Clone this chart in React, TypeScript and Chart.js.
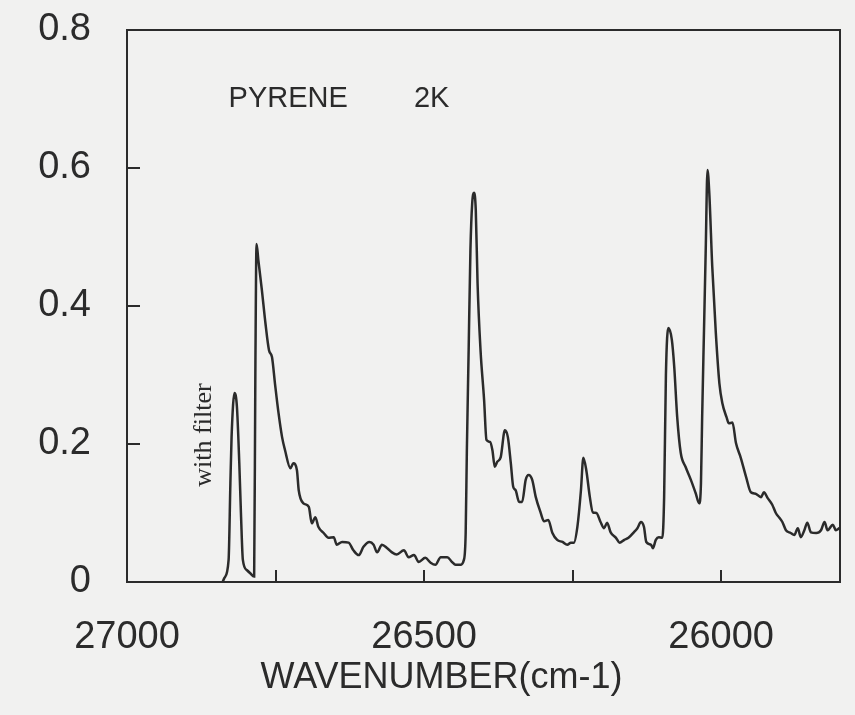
import { useEffect, useRef } from "react";
import { Chart, registerables } from "chart.js";

Chart.register(...registerables);

// Spectrum: wavenumber (cm-1) and intensity
const wavenumbers = [
  26839, 26836, 26829, 26826, 26824, 26819, 26815, 26811, 26808, 26805, 26798, 26793, 26786, 26784,
  26782, 26779, 26773, 26767, 26761, 26756, 26751, 26745, 26739, 26734, 26725, 26720, 26714, 26711,
  26703, 26694, 26689, 26683, 26678, 26669, 26661, 26652, 26647, 26638, 26627, 26619, 26610, 26602,
  26592, 26585, 26579, 26571, 26562, 26554, 26546, 26534, 26526, 26517, 26509, 26498, 26489, 26481,
  26472, 26461, 26453, 26447, 26439, 26433, 26430, 26428, 26425, 26422, 26419, 26416, 26413, 26410,
  26405, 26399, 26395, 26389, 26385, 26381, 26377, 26371, 26364, 26359, 26354, 26350, 26346, 26340,
  26335, 26329, 26324, 26318, 26312, 26304, 26298, 26291, 26284, 26276, 26267, 26259, 26253, 26248,
  26242, 26236, 26232, 26227, 26221, 26216, 26210, 26203, 26197, 26192, 26186, 26177, 26171, 26163,
  26156, 26147, 26141, 26135, 26130, 26126, 26118, 26115, 26110, 26105, 26099, 26096, 26093, 26089,
  26083, 26079, 26074, 26068, 26060, 26051, 26043, 26037, 26034, 26032, 26029, 26026, 26023, 26020,
  26015, 26009, 26003, 25998, 25991, 25987, 25981, 25975, 25967, 25958, 25950, 25942, 25933, 25928,
  25922, 25914, 25908, 25902, 25897, 25891, 25883, 25877, 25871, 25866, 25860, 25855, 25849, 25840,
  25832, 25826, 25821, 25812, 25807, 25801,
];
const intensities = [
  0.0, 0.006, 0.032, 0.143, 0.21, 0.274, 0.254, 0.172, 0.094, 0.032, 0.017, 0.013, 0.008, 0.3,
  0.49, 0.467, 0.423, 0.375, 0.336, 0.326, 0.288, 0.245, 0.21, 0.191, 0.165, 0.172, 0.162, 0.133,
  0.114, 0.109, 0.085, 0.094, 0.08, 0.071, 0.064, 0.065, 0.054, 0.058, 0.057, 0.046, 0.039, 0.051,
  0.058, 0.054, 0.043, 0.054, 0.049, 0.043, 0.04, 0.046, 0.036, 0.039, 0.029, 0.035, 0.028, 0.025,
  0.036, 0.036, 0.029, 0.025, 0.025, 0.032, 0.071, 0.191, 0.336, 0.481, 0.549, 0.564, 0.539, 0.433,
  0.336, 0.264, 0.206, 0.203, 0.191, 0.167, 0.174, 0.181, 0.22, 0.21, 0.172, 0.138, 0.133, 0.116,
  0.116, 0.148, 0.155, 0.148, 0.123, 0.101, 0.088, 0.09, 0.071, 0.061, 0.058, 0.054, 0.057, 0.057,
  0.08, 0.133, 0.18, 0.162, 0.123, 0.101, 0.1, 0.087, 0.078, 0.086, 0.072, 0.064, 0.057, 0.061,
  0.064, 0.072, 0.078, 0.087, 0.08, 0.058, 0.054, 0.049, 0.061, 0.065, 0.064, 0.123, 0.3, 0.368,
  0.351, 0.312, 0.239, 0.187, 0.167, 0.148, 0.129, 0.114, 0.143, 0.239, 0.361, 0.481, 0.597, 0.564,
  0.457, 0.361, 0.288, 0.259, 0.239, 0.23, 0.231, 0.201, 0.18, 0.152, 0.13, 0.128, 0.123, 0.13,
  0.122, 0.112, 0.1, 0.093, 0.087, 0.075, 0.071, 0.068, 0.078, 0.065, 0.075, 0.086, 0.072, 0.071,
  0.075, 0.087, 0.075, 0.083, 0.075, 0.078,
];

const xLabelTicks = [27000, 26500, 26000];
const xTickMarks = [26750, 26500, 26250, 26000];
const yTickValues = [0, 0.2, 0.4, 0.6, 0.8];
const yTickMarks = [0.2, 0.4, 0.6];
const xTitle = "WAVENUMBER(cm-1)";
const sampleLabel = "PYRENE";
const tempLabel = "2K";
const filterLabel = "with filter";

const INK = "#2b2b2b";
const SANS = '"Liberation Sans", Arial, Helvetica, sans-serif';
const SERIF = '"Liberation Serif", "Times New Roman", serif';

const decorPlugin = {
  id: "decor",
  beforeDraw(chart: any) {
    const ctx = chart.ctx;
    ctx.save();
    ctx.fillStyle = "#f1f1f0";
    ctx.fillRect(0, 0, chart.width, chart.height);
    ctx.restore();
  },
  afterDraw(chart: any) {
    const ctx = chart.ctx;
    const { left, right, top, bottom } = chart.chartArea;
    const xs = chart.scales.x;
    const ys = chart.scales.y;
    ctx.save();
    ctx.strokeStyle = INK;
    ctx.lineWidth = 2;
    ctx.strokeRect(left, top, right - left, bottom - top);
    ctx.beginPath();
    for (const v of xTickMarks) {
      const px = Math.round(xs.getPixelForValue(v));
      ctx.moveTo(px, bottom);
      ctx.lineTo(px, bottom - 12);
    }
    for (const v of yTickMarks) {
      const py = Math.round(ys.getPixelForValue(v));
      ctx.moveTo(left, py);
      ctx.lineTo(left + 13, py);
    }
    ctx.stroke();

    ctx.fillStyle = INK;
    ctx.textBaseline = "alphabetic";
    ctx.textAlign = "left";
    ctx.font = `29px ${SANS}`;
    ctx.fillText(sampleLabel, xs.getPixelForValue(26829), ys.getPixelForValue(0.689));
    ctx.fillText(tempLabel, xs.getPixelForValue(26517), ys.getPixelForValue(0.689));

    ctx.save();
    ctx.translate(xs.getPixelForValue(26858), ys.getPixelForValue(0.213));
    ctx.rotate(-Math.PI / 2);
    ctx.textAlign = "center";
    ctx.font = `26px ${SERIF}`;
    ctx.fillText(filterLabel, 0, 0);
    ctx.restore();

    ctx.textAlign = "center";
    ctx.font = `36px ${SANS}`;
    ctx.fillText(xTitle, chart.width / 2 + 14, bottom + 106);
    ctx.restore();
  },
};

export default function App() {
  const canvasRef = useRef<HTMLCanvasElement | null>(null);

  useEffect(() => {
    if (!canvasRef.current) return;
    const points = wavenumbers.map((w, i) => ({ x: w, y: intensities[i] }));
    const chart = new Chart(canvasRef.current, {
      type: "line",
      data: {
        datasets: [
          {
            data: points,
            borderColor: INK,
            borderWidth: 2.5,
            pointRadius: 0,
            fill: false,
            cubicInterpolationMode: "monotone",
          },
        ],
      },
      options: {
        animation: false,
        responsive: true,
        maintainAspectRatio: false,
        layout: { padding: { top: 30, right: 15, left: 0, bottom: 0 } },
        plugins: { legend: { display: false }, tooltip: { enabled: false } },
        scales: {
          x: {
            type: "linear",
            reverse: true,
            min: 25800,
            max: 27000,
            grid: { display: false, drawTicks: false },
            border: { display: false },
            afterBuildTicks: (scale: any) => {
              scale.ticks = xLabelTicks.map((v) => ({ value: v }));
            },
            afterFit: (scale: any) => {
              scale.height = 133;
              scale.paddingLeft = 0;
              scale.paddingRight = 0;
            },
            ticks: {
              padding: 33,
              color: INK,
              maxRotation: 0,
              autoSkip: false,
              font: { family: SANS, size: 38, lineHeight: 1.2 },
              callback: (v: any) => String(v),
            },
          },
          y: {
            type: "linear",
            min: 0,
            max: 0.8,
            grid: { display: false, drawTicks: false },
            border: { display: false },
            afterBuildTicks: (scale: any) => {
              scale.ticks = yTickValues.map((v) => ({ value: v }));
            },
            afterFit: (scale: any) => {
              scale.width = 127;
              scale.paddingTop = 0;
              scale.paddingBottom = 0;
            },
            ticks: {
              padding: 36,
              color: INK,
              font: { family: SANS, size: 38, lineHeight: 1.2 },
              callback: (v: any) => (v === 0 ? "0" : Number(v).toFixed(1)),
            },
          },
        },
      },
      plugins: [decorPlugin],
    });
    return () => chart.destroy();
  }, []);

  return (
    <div style={{ position: "fixed", left: 0, top: 0, width: 855, height: 715, background: "#f1f1f0" }}>
      <canvas ref={canvasRef} />
    </div>
  );
}
